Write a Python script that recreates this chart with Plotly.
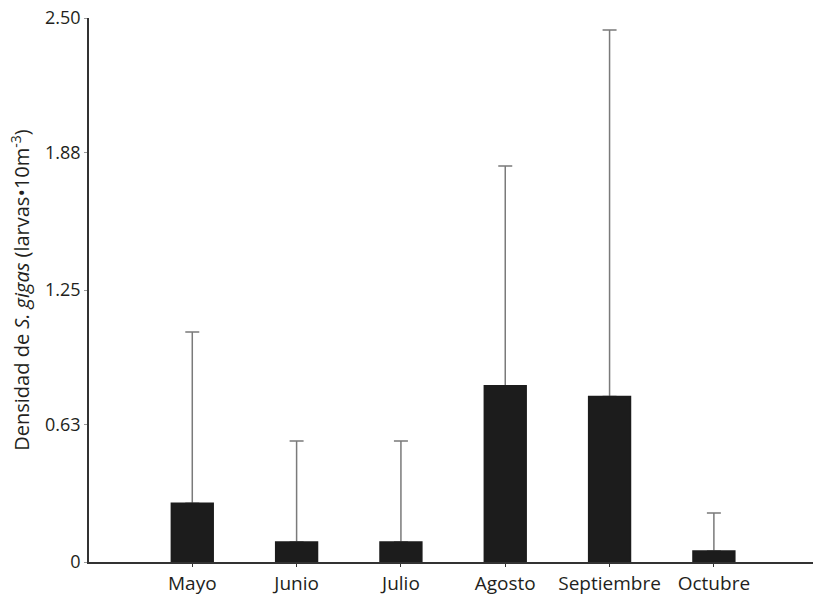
import plotly.graph_objects as go

months = ["Mayo", "Junio", "Julio", "Agosto", "Septiembre", "Octubre"]
density = [0.27, 0.092, 0.092, 0.81, 0.76, 0.05]
err_plus = [0.787, 0.464, 0.464, 1.01, 1.685, 0.175]

tick_vals = [0, 0.63, 1.25, 1.88, 2.5]
tick_text = ["0", "0.63", "1.25", "1.88", "2.50"]

bar_color = "#1c1c1c"

fig = go.Figure()
# bars with upward error bars
fig.add_trace(go.Bar(
    x=months, y=density, width=0.4,
    marker=dict(color=bar_color, line=dict(width=0)),
    error_y=dict(type="data", symmetric=False, array=err_plus, arrayminus=[0]*6,
                 color="#7a7a7a", thickness=1.5, width=7),
))
# same bars drawn again on top to hide the lower cap
fig.add_trace(go.Bar(
    x=months, y=density, width=0.4,
    marker=dict(color=bar_color, line=dict(width=1.6, color=bar_color)),
    hoverinfo="skip",
))

font_fam = "Open Sans, Lato, sans-serif"
fig.update_layout(
    width=816, height=597,
    margin=dict(l=89, r=3, t=18, b=35, autoexpand=False),
    plot_bgcolor="white", paper_bgcolor="white",
    showlegend=False, barmode="overlay",
    font=dict(family=font_fam, size=19, color="#231f20"),
    xaxis=dict(
        type="category", range=[-0.99, 5.95], automargin=False,
        showline=True, linecolor="#333", linewidth=1.5,
        ticks="outside", ticklen=3, tickcolor="#333",
        showgrid=False, zeroline=False,
        tickfont=dict(size=19),
    ),
    yaxis=dict(
        range=[0, 2.5], automargin=False,
        tickvals=tick_vals, ticktext=tick_text,
        showline=True, linecolor="#333", linewidth=1.5,
        ticks="outside", ticklen=3, tickcolor="#999",
        showgrid=False, zeroline=False,
        tickfont=dict(size=18),
        title=dict(text="Densidad de <i>S. gigas</i> (larvas•10m<sup>-3</sup>)",
                   font=dict(size=20), standoff=10),
    ),
)

fig.write_html("out.html")
